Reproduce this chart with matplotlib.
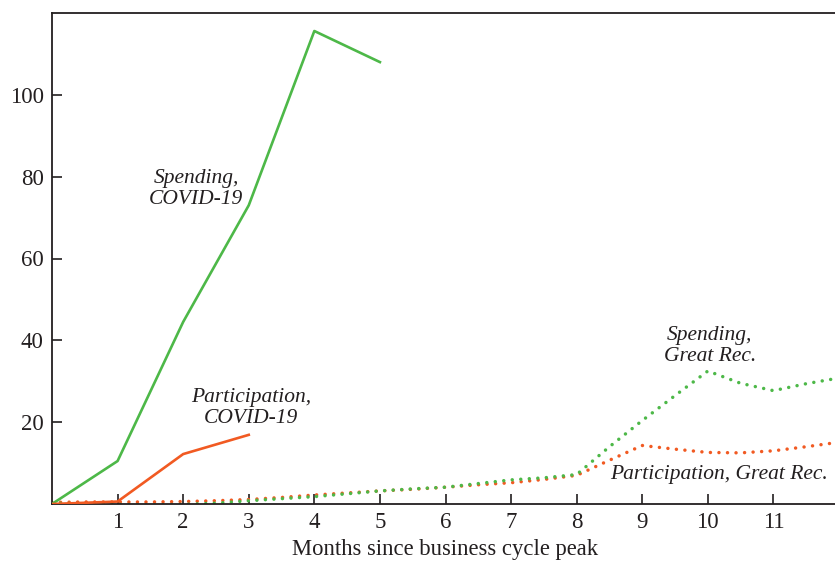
import matplotlib
matplotlib.use("Agg")
import matplotlib.pyplot as plt

# ---- data ----
covid_months = [0, 1, 2, 3, 4, 5]
spending_covid = [0, 10.5, 44.5, 73, 115.6, 108]
part_months = [0, 1, 2, 3]
participation_covid = [0, 0.6, 12.2, 16.9]

gr_months = [0, 0.5, 1, 1.5, 2, 2.5, 3, 3.5, 4, 4.5, 5, 5.5, 6, 6.5, 7, 7.5,
             8, 8.5, 9, 9.5, 10, 10.5, 11, 11.5, 12]
spending_gr = [0.2, 0.1, -0.1, -0.2, -0.1, 0.2, 0.8, 1.3, 1.8, 2.5, 3.2, 3.7,
               4.1, 5.0, 5.9, 6.4, 7.2, 14.0, 20.4, 26.5, 32.5, 29.5, 27.7,
               29.4, 30.8]
participation_gr = [0.4, 0.5, 0.5, 0.5, 0.6, 0.8, 1.1, 1.6, 2.2, 2.7, 3.2, 3.6,
                    4.1, 4.7, 5.2, 6.0, 7.0, 10.7, 14.3, 13.4, 12.6, 12.5, 13.0,
                    14.0, 15.1]

xticks = list(range(1, 12))
yticks = [20, 40, 60, 80, 100]

GREEN = "#4DB848"
ORANGE = "#F15A22"
TXT = "#231F20"

plt.rcParams["font.family"] = ["Liberation Serif", "DejaVu Serif"]

fig = plt.figure(figsize=(8.35, 5.65), dpi=100)
ax = fig.add_axes([52 / 835, 1 - 504 / 565, 787 / 835, (504 - 13) / 565])

dot = (0, (0.01, 2.45))
ax.plot(gr_months, participation_gr, color=ORANGE, lw=2.5,
        linestyle=dot, dash_capstyle="round", zorder=2)
ax.plot(gr_months, spending_gr, color=GREEN, lw=2.5,
        linestyle=dot, dash_capstyle="round", zorder=2.5)
ax.plot(covid_months, spending_covid, color=GREEN, lw=1.9, zorder=3)
ax.plot(part_months, participation_covid, color=ORANGE, lw=1.9, zorder=3)

ax.set_xlim(0, 12)
ax.set_ylim(0, 120)
ax.set_xticks(xticks)
ax.set_yticks(yticks)
ax.tick_params(direction="in", length=7.5, width=1.2, labelsize=16.5,
               colors=TXT, pad=6)
for s in ["left", "bottom", "top"]:
    ax.spines[s].set_linewidth(1.3)
    ax.spines[s].set_color(TXT)
ax.spines["right"].set_visible(False)

ax.set_xlabel("Months since business cycle peak", fontsize=16.3, color=TXT, labelpad=4)

kw = dict(fontsize=15.5, style="italic", color=TXT, ha="center", va="center",
          linespacing=1.15)
ax.text(2.2, 77, "Spending,\nCOVID-19", **kw)
ax.text(3.03, 23.5, "Participation,\nCOVID-19", **kw)
ax.text(10.03, 38.6, "Spending,\nGreat Rec.", **kw)
ax.text(10.17, 7.3, "Participation, Great Rec.", **kw)

fig.savefig("out.png", dpi=100)
